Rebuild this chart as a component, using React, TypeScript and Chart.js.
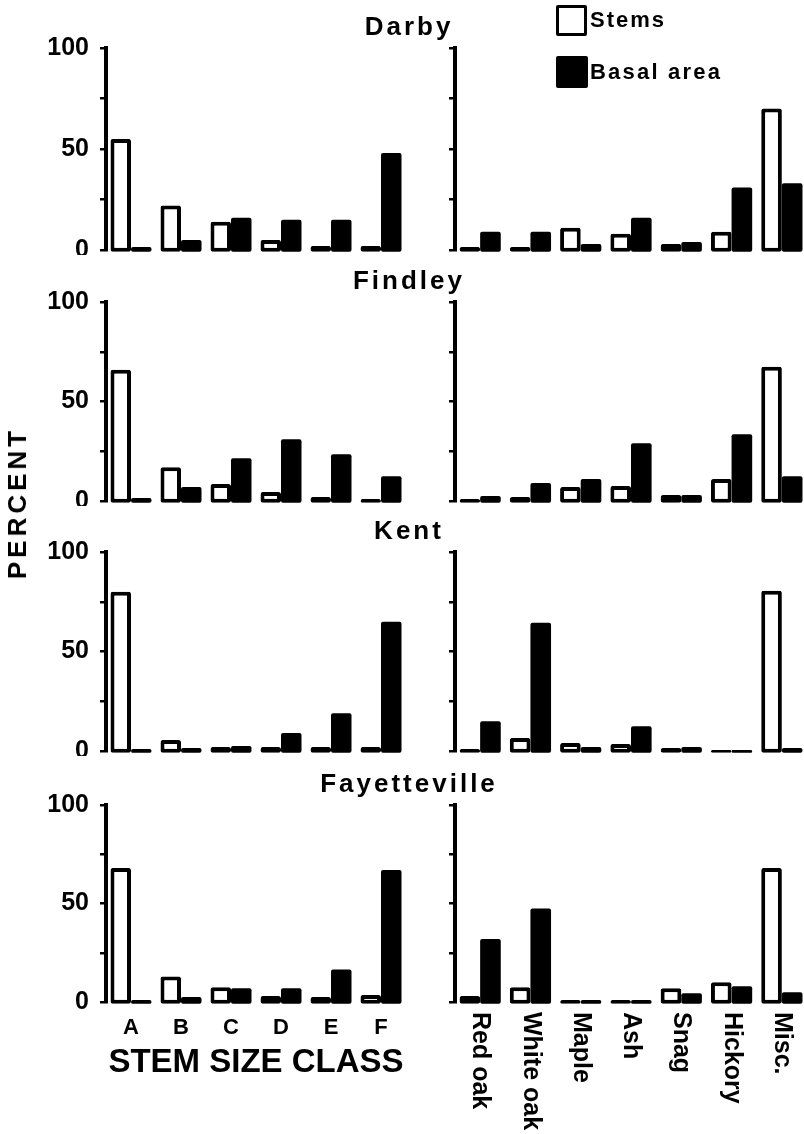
import React, { useEffect, useRef } from 'react';
import { Chart, registerables } from 'chart.js';

Chart.register(...registerables);

// ---------------- DATA ----------------
const sizeClasses = ['A', 'B', 'C', 'D', 'E', 'F'];
const species = ['Red oak', 'White oak', 'Maple', 'Ash', 'Snag', 'Hickory', 'Misc.'];
const sites = ['Darby', 'Findley', 'Kent', 'Fayetteville'];
const seriesNames = ['Stems', 'Basal area'];
const yTickStep = 25;
const yLabelledTicks = [0, 50, 100];

const darbySizeStems = [55, 22, 14, 5, 2, 2];
const darbySizeBasal = [1.5, 5, 16, 15, 15, 48];
const darbySpeciesStems = [1.5, 1.5, 11, 8, 3, 9, 70];
const darbySpeciesBasal = [9, 9, 3, 16, 4, 31, 33];

const findleySizeStems = [66, 17, 8.5, 4.5, 2, 1];
const findleySizeBasal = [1.5, 7, 21.5, 31, 23.5, 12.5];
const findleySpeciesStems = [1, 2, 7, 7.5, 3, 11, 67.5];
const findleySpeciesBasal = [2.5, 9, 11, 29, 3, 33.5, 12.5];

const kentSizeStems = [80, 5.5, 2, 2, 2, 2];
const kentSizeBasal = [1, 1.5, 2.5, 9, 19, 65];
const kentSpeciesStems = [1, 6.5, 4, 3.5, 1.5, 0.5, 80.5];
const kentSpeciesBasal = [15, 64.5, 2, 12.5, 2, 0.5, 1.5];

const fayettevilleSizeStems = [68, 13, 7.5, 3, 2.5, 3.5];
const fayettevilleSizeBasal = [1, 2.5, 7, 7, 16.5, 67];
const fayettevilleSpeciesStems = [3, 7.5, 1, 1, 7, 10, 68];
const fayettevilleSpeciesBasal = [32, 47.5, 1, 1, 4.5, 8, 5];

const sizeStems = [darbySizeStems, findleySizeStems, kentSizeStems, fayettevilleSizeStems];
const sizeBasal = [darbySizeBasal, findleySizeBasal, kentSizeBasal, fayettevilleSizeBasal];
const speciesStems = [darbySpeciesStems, findleySpeciesStems, kentSpeciesStems, fayettevilleSpeciesStems];
const speciesBasal = [darbySpeciesBasal, findleySpeciesBasal, kentSpeciesBasal, fayettevilleSpeciesBasal];

// ---------------- LAYOUT ----------------
const FAMILY = "'Liberation Sans', Arial, Helvetica, sans-serif";
const rowPlot = [
  [48, 250],
  [302, 501],
  [552, 751],
  [805, 1002],
];
const PAD_TOP = 14;

const rotatedLabelsPlugin = {
  id: 'rotatedLabels',
  afterDraw(chart: any) {
    const { ctx, chartArea } = chart;
    const xs = chart.scales.x;
    ctx.save();
    ctx.font = `bold 25px ${FAMILY}`;
    ctx.fillStyle = '#000';
    ctx.textAlign = 'left';
    ctx.textBaseline = 'middle';
    (chart.data.labels as string[]).forEach((lab, i) => {
      const x = xs.getPixelForValue(i);
      ctx.save();
      ctx.translate(x, chartArea.bottom + 10);
      ctx.rotate(Math.PI / 2);
      ctx.fillText(lab, 0, 0);
      ctx.restore();
    });
    ctx.restore();
  },
};

type PanelProps = {
  left: number;
  top: number;
  width: number;
  height: number;
  labels: string[];
  stems: number[];
  basal: number[];
  yAxisWidth: number;
  padRight: number;
  padBottom: number;
  showYLabels: boolean;
  xMode: 'none' | 'ticks' | 'rotated';
  xHeight?: number;
};

function Panel(p: PanelProps) {
  const ref = useRef<HTMLCanvasElement | null>(null);
  useEffect(() => {
    if (!ref.current) return;
    const barCommon = {
      borderColor: '#000',
      borderSkipped: false,
      borderRadius: 2,
      categoryPercentage: 0.82,
      barPercentage: 1.0,
      base: -0.9,
      clip: false,
    };
    const chart = new Chart(ref.current, {
      type: 'bar',
      data: {
        labels: p.labels,
        datasets: [
          { label: seriesNames[0], data: p.stems, backgroundColor: '#fff', borderWidth: 4, ...barCommon },
          { label: seriesNames[1], data: p.basal, backgroundColor: '#000', borderWidth: 0, ...barCommon },
        ],
      } as any,
      options: {
        responsive: false,
        maintainAspectRatio: false,
        animation: false,
        devicePixelRatio: 1,
        layout: { padding: { top: PAD_TOP, left: 0, right: p.padRight, bottom: p.padBottom } },
        plugins: {
          legend: { display: false },
          tooltip: { enabled: false },
          title: { display: false },
        },
        scales: {
          x: {
            type: 'category',
            display: p.xMode === 'ticks',
            offset: true,
            grid: { display: false, drawTicks: false },
            border: { display: false },
            ticks: {
              font: { family: FAMILY, size: 22, weight: 'bold' },
              color: '#000',
              padding: 13,
              maxRotation: 0,
              minRotation: 0,
              autoSkip: false,
            },
            title: {
              display: p.xMode === 'ticks',
              text: 'STEM SIZE CLASS',
              font: { family: FAMILY, size: 33, weight: 'bold' },
              color: '#000',
              padding: 0,
            },
            afterFit: (s: any) => {
              if (p.xHeight) s.height = p.xHeight;
              s.paddingLeft = 0;
              s.paddingRight = 0;
            },
          },
          y: {
            min: 0,
            max: 100,
            ticks: {
              stepSize: yTickStep,
              callback: (v: any) => (p.showYLabels && yLabelledTicks.includes(Number(v)) ? String(v) : ''),
              font: { family: FAMILY, size: 25, weight: 'bold' },
              color: '#000',
              padding: 11,
            },
            grid: {
              display: true,
              drawOnChartArea: false,
              drawTicks: true,
              tickLength: 6,
              lineWidth: 2.5,
              color: '#000',
            },
            border: { display: true, width: 4, color: '#000' },
            afterFit: (s: any) => {
              s.width = p.yAxisWidth;
              s.paddingTop = 0;
              s.paddingBottom = 0;
            },
          },
        },
      } as any,
      plugins: p.xMode === 'rotated' ? [rotatedLabelsPlugin as any] : [],
    });
    return () => chart.destroy();
  }, []);
  return (
    <canvas
      ref={ref}
      width={p.width}
      height={p.height}
      style={{ position: 'absolute', left: p.left, top: p.top, width: p.width, height: p.height }}
    />
  );
}

const textBase: React.CSSProperties = {
  position: 'absolute',
  fontFamily: FAMILY,
  fontWeight: 'bold',
  color: '#000',
  whiteSpace: 'nowrap',
};

export default function App() {
  const panels: React.ReactNode[] = [];
  sites.forEach((site, r) => {
    const [pt, pb] = rowPlot[r];
    const last = r === rowPlot.length - 1;
    const leftXH = 81;
    const leftH = PAD_TOP + (pb - pt) + (last ? leftXH : 5);
    const rightH = PAD_TOP + (pb - pt) + (last ? 1134 - pb : 5);
    panels.push(
      <Panel
        key={site + '-size'}
        left={0}
        top={pt - PAD_TOP}
        width={420}
        height={leftH}
        labels={sizeClasses}
        stems={sizeStems[r]}
        basal={sizeBasal[r]}
        yAxisWidth={106}
        padRight={14}
        padBottom={last ? 0 : 5}
        showYLabels={true}
        xMode={last ? 'ticks' : 'none'}
        xHeight={last ? leftXH : undefined}
      />
    );
    panels.push(
      <Panel
        key={site + '-species'}
        left={440}
        top={pt - PAD_TOP}
        width={367}
        height={rightH}
        labels={species}
        stems={speciesStems[r]}
        basal={speciesBasal[r]}
        yAxisWidth={15}
        padRight={0}
        padBottom={last ? 1134 - pb : 5}
        showYLabels={false}
        xMode={last ? 'rotated' : 'none'}
      />
    );
  });

  return (
    <div
      style={{
        position: 'absolute',
        left: 0,
        top: 0,
        width: 804,
        height: 1134,
        overflow: 'hidden',
        background: '#fff',
      }}
    >
      {panels}
      {sites.map((site, r) => (
        <div
          key={site}
          style={{
            ...textBase,
            left: 409,
            top: rowPlot[r][0] - 13 - 22,
            transform: 'translateX(-50%)',
            fontSize: 26,
            lineHeight: '26px',
            letterSpacing: '3px',
          }}
        >
          {site}
        </div>
      ))}
      {/* legend */}
      <div
        style={{
          position: 'absolute',
          left: 556,
          top: 5,
          width: 25,
          height: 25,
          border: '3px solid #000',
          borderRadius: 2,
          background: '#fff',
        }}
      />
      <div style={{ ...textBase, left: 590, top: 8, fontSize: 22, lineHeight: '24px', letterSpacing: '2px' }}>
        {seriesNames[0]}
      </div>
      <div
        style={{
          position: 'absolute',
          left: 556,
          top: 56,
          width: 32,
          height: 32,
          borderRadius: 2,
          background: '#000',
        }}
      />
      <div style={{ ...textBase, left: 590, top: 60, fontSize: 22, lineHeight: '24px', letterSpacing: '2.2px' }}>
        {seriesNames[1]}
      </div>
      {/* y title */}
      <div
        style={{
          ...textBase,
          left: 17,
          top: 503,
          fontSize: 26,
          lineHeight: '26px',
          letterSpacing: '4px',
          transform: 'translate(-50%, -50%) rotate(-90deg)',
        }}
      >
        PERCENT
      </div>
    </div>
  );
}
